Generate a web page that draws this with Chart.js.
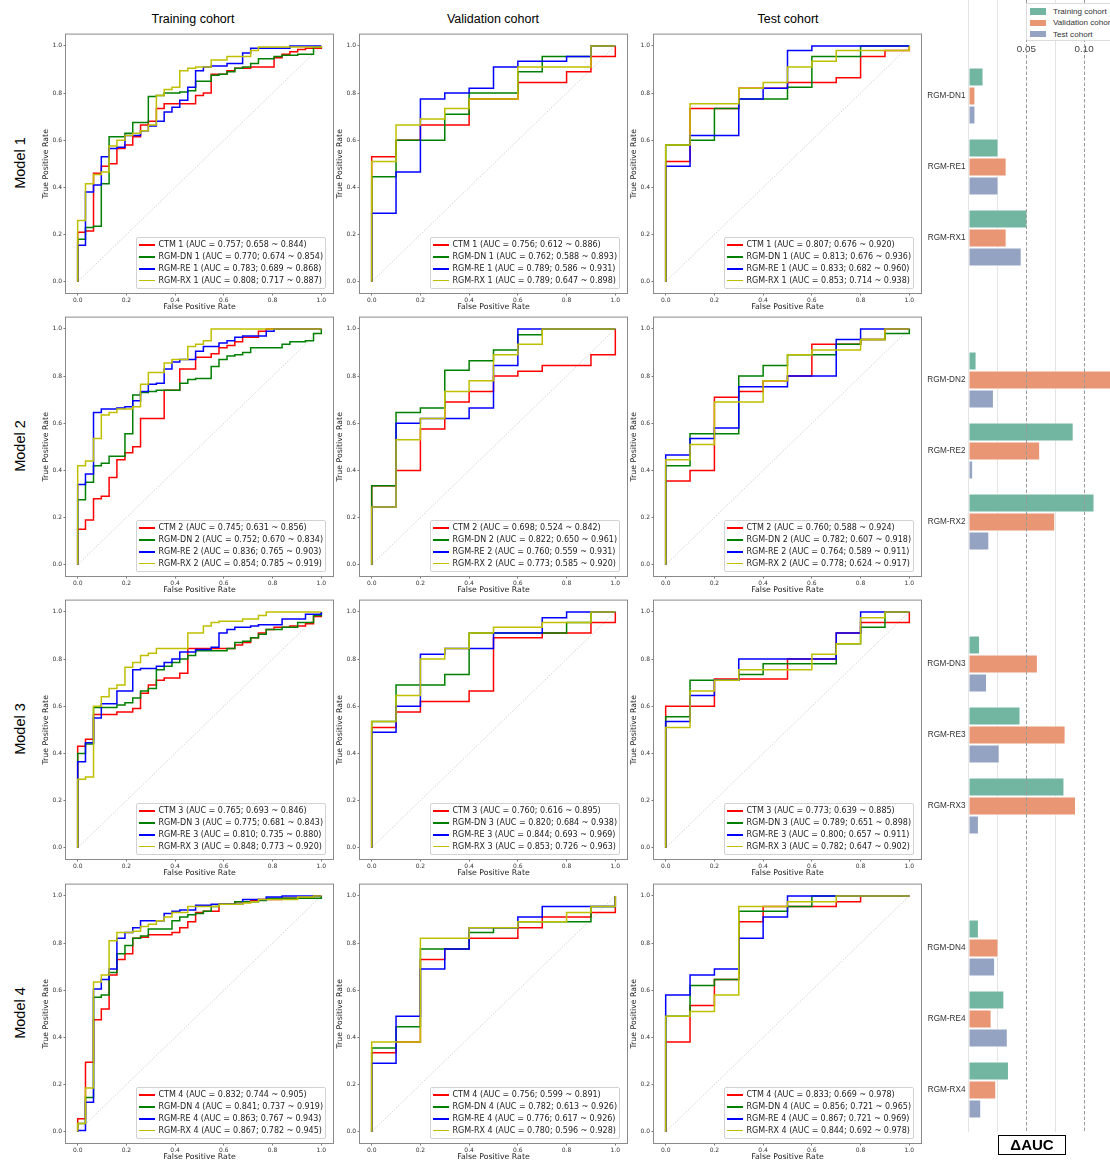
<!DOCTYPE html>
<html><head><meta charset="utf-8">
<script src="https://cdn.jsdelivr.net/npm/chart.js@4.4.0/dist/chart.umd.min.js"></script>
<style>
html,body{margin:0;padding:0;background:#fff;overflow:hidden;}
body{position:relative;width:1110px;height:1160px;}
canvas{position:absolute;}
.ctitle{position:absolute;top:12px;font-family:"Liberation Sans",Arial,sans-serif;font-size:12.5px;line-height:15px;color:#000;transform:translateX(-50%);white-space:nowrap;}
.rlabel{position:absolute;font-family:"Liberation Sans",Arial,sans-serif;font-size:14.5px;line-height:16px;color:#000;transform:translate(-50%,-50%) rotate(-90deg);white-space:nowrap;}
.leg{position:absolute;background:rgba(255,255,255,0.85);border:1px solid #d2d2d2;border-radius:2px;padding:1px 2px 1px 2px;font-family:"DejaVu Sans",sans-serif;font-size:8px;color:#222;}
.leg .row{height:11.8px;line-height:11.8px;white-space:nowrap;display:flex;align-items:center;}
.leg .sw{display:inline-block;width:16px;height:1.5px;margin-right:3px;flex:none;}
.bleg{position:absolute;left:1026px;top:3px;width:100px;height:36px;background:#fff;border:1px solid #dcdcdc;border-radius:2px;font-family:"Liberation Sans",Arial,sans-serif;font-size:8.1px;color:#333;}
.bleg .row{position:absolute;left:3px;height:11px;line-height:11px;white-space:nowrap;display:flex;align-items:center;}
.bleg .sw{display:inline-block;width:16px;height:6.5px;margin-right:7px;flex:none;}
.dauc{position:absolute;left:998px;top:1135px;width:66px;height:18px;border:1.5px solid #000;font-family:"Liberation Sans",Arial,sans-serif;font-weight:bold;font-size:15px;line-height:18px;text-align:center;color:#000;}
</style></head><body>
<script>
// ---------------- DATA ----------------
const cohortNames = ['Training cohort','Validation cohort','Test cohort'];
const modelRows = ['Model 1','Model 2','Model 3','Model 4'];
const seriesNames = ['CTM','RGM-DN','RGM-RE','RGM-RX'];
const tickValues = [0,0.2,0.4,0.6,0.8,1.0];

// AUC; CI low; CI high  for [CTM, RGM-DN, RGM-RE, RGM-RX]
const aucM1Train = [[0.757,0.658,0.844],[0.770,0.674,0.854],[0.783,0.689,0.868],[0.808,0.717,0.887]];
const aucM1Val   = [[0.756,0.612,0.886],[0.762,0.588,0.893],[0.789,0.586,0.931],[0.789,0.647,0.898]];
const aucM1Test  = [[0.807,0.676,0.920],[0.813,0.676,0.936],[0.833,0.682,0.960],[0.853,0.714,0.938]];
const aucM2Train = [[0.745,0.631,0.856],[0.752,0.670,0.834],[0.836,0.765,0.903],[0.854,0.785,0.919]];
const aucM2Val   = [[0.698,0.524,0.842],[0.822,0.650,0.961],[0.760,0.559,0.931],[0.773,0.585,0.920]];
const aucM2Test  = [[0.760,0.588,0.924],[0.782,0.607,0.918],[0.764,0.589,0.911],[0.778,0.624,0.917]];
const aucM3Train = [[0.765,0.693,0.846],[0.775,0.681,0.843],[0.810,0.735,0.880],[0.848,0.773,0.920]];
const aucM3Val   = [[0.760,0.616,0.895],[0.820,0.684,0.938],[0.844,0.693,0.969],[0.853,0.726,0.963]];
const aucM3Test  = [[0.773,0.639,0.885],[0.789,0.651,0.898],[0.800,0.657,0.911],[0.782,0.647,0.902]];
const aucM4Train = [[0.832,0.744,0.905],[0.841,0.737,0.919],[0.863,0.767,0.943],[0.867,0.782,0.945]];
const aucM4Val   = [[0.756,0.599,0.891],[0.782,0.613,0.926],[0.776,0.617,0.926],[0.780,0.596,0.928]];
const aucM4Test  = [[0.833,0.669,0.978],[0.856,0.721,0.965],[0.867,0.721,0.969],[0.844,0.692,0.978]];

// ROC steps: [fpr, tpr] = move right to fpr, then up to tpr. Order: CTM, DN, RE, RX
const rocM1Train = [
 [[0,0.21],[0.032,0.215],[0.065,0.46],[0.097,0.49],[0.129,0.50],[0.161,0.565],[0.194,0.58],[0.226,0.615],[0.258,0.665],[0.29,0.68],[0.323,0.735],[0.355,0.755],[0.484,0.79],[0.516,0.80],[0.548,0.88],[0.613,0.895],[0.645,0.905],[0.71,0.91],[0.806,0.95],[0.839,0.965],[0.871,0.975],[0.903,0.985],[0.935,0.99],[1,1]],
 [[0,0.18],[0.032,0.23],[0.065,0.235],[0.097,0.415],[0.129,0.615],[0.194,0.63],[0.226,0.675],[0.29,0.785],[0.323,0.79],[0.355,0.80],[0.419,0.805],[0.452,0.81],[0.484,0.85],[0.548,0.875],[0.58,0.88],[0.613,0.89],[0.645,0.905],[0.677,0.91],[0.71,0.925],[0.742,0.945],[0.806,0.955],[0.839,0.96],[0.903,0.965],[0.968,0.995],[1,1]],
 [[0,0.155],[0.032,0.38],[0.065,0.41],[0.097,0.53],[0.129,0.565],[0.161,0.57],[0.194,0.62],[0.258,0.64],[0.29,0.66],[0.323,0.68],[0.355,0.72],[0.387,0.74],[0.419,0.77],[0.452,0.825],[0.484,0.895],[0.516,0.91],[0.548,0.915],[0.613,0.925],[0.677,0.97],[0.71,0.99],[0.871,1.0],[1,1]],
 [[0,0.26],[0.032,0.415],[0.065,0.455],[0.097,0.465],[0.129,0.575],[0.161,0.60],[0.194,0.62],[0.226,0.63],[0.258,0.64],[0.29,0.665],[0.323,0.79],[0.355,0.815],[0.387,0.825],[0.419,0.895],[0.452,0.905],[0.484,0.91],[0.548,0.94],[0.613,0.955],[0.71,0.98],[0.742,0.995],[1,1]]
];
const rocM1Val = [
 [[0,0.53],[0.1,0.60],[0.2,0.665],[0.4,0.775],[0.6,0.845],[0.8,0.89],[0.9,0.955],[1,1]],
 [[0,0.445],[0.1,0.6],[0.3,0.71],[0.4,0.80],[0.6,0.89],[0.7,0.955],[0.9,1.0],[1,1]],
 [[0,0.29],[0.1,0.465],[0.2,0.775],[0.3,0.80],[0.4,0.82],[0.5,0.91],[0.6,0.935],[0.8,0.955],[0.9,1.0],[1,1]],
 [[0,0.51],[0.1,0.665],[0.2,0.69],[0.3,0.735],[0.4,0.775],[0.6,0.91],[0.9,1.0],[1,1]]
];
const rocM1Test = [
 [[0,0.51],[0.1,0.735],[0.3,0.82],[0.5,0.845],[0.7,0.865],[0.8,0.955],[0.9,0.98],[1,1]],
 [[0,0.58],[0.1,0.60],[0.2,0.735],[0.3,0.775],[0.5,0.825],[0.6,0.955],[0.8,1.0],[1,1]],
 [[0,0.49],[0.1,0.62],[0.3,0.775],[0.4,0.82],[0.5,0.98],[0.6,1.0],[1,1]],
 [[0,0.58],[0.1,0.755],[0.3,0.82],[0.4,0.845],[0.5,0.91],[0.6,0.935],[0.7,0.98],[1,1]]
];
const rocM2Train = [
 [[0,0.15],[0.032,0.19],[0.065,0.28],[0.097,0.29],[0.129,0.37],[0.161,0.445],[0.194,0.475],[0.226,0.50],[0.258,0.62],[0.355,0.74],[0.419,0.83],[0.484,0.88],[0.548,0.895],[0.58,0.92],[0.613,0.93],[0.645,0.945],[0.677,0.965],[0.742,0.99],[0.774,1.0],[1,1]],
 [[0,0.275],[0.032,0.35],[0.065,0.42],[0.097,0.43],[0.129,0.46],[0.194,0.555],[0.226,0.72],[0.258,0.73],[0.29,0.735],[0.323,0.74],[0.419,0.77],[0.452,0.785],[0.484,0.79],[0.548,0.84],[0.58,0.87],[0.613,0.885],[0.645,0.89],[0.677,0.90],[0.71,0.92],[0.839,0.935],[0.871,0.945],[0.935,0.95],[0.968,0.98],[1,1]],
 [[0,0.34],[0.032,0.385],[0.065,0.645],[0.097,0.66],[0.161,0.665],[0.194,0.67],[0.226,0.695],[0.258,0.735],[0.29,0.765],[0.323,0.77],[0.355,0.83],[0.387,0.86],[0.419,0.87],[0.484,0.905],[0.516,0.925],[0.58,0.94],[0.613,0.95],[0.645,0.965],[0.677,0.97],[0.774,0.99],[0.806,1.0],[1,1]],
 [[0,0.42],[0.032,0.44],[0.065,0.535],[0.097,0.635],[0.129,0.645],[0.161,0.66],[0.226,0.67],[0.258,0.765],[0.29,0.815],[0.355,0.855],[0.387,0.87],[0.452,0.925],[0.484,0.935],[0.516,0.95],[0.548,1.0],[1,1]]
];
const rocM2Val = [
 [[0,0.335],[0.1,0.40],[0.2,0.575],[0.3,0.69],[0.4,0.735],[0.5,0.80],[0.6,0.82],[0.7,0.845],[0.9,0.89],[1,1]],
 [[0,0.335],[0.1,0.645],[0.2,0.665],[0.3,0.825],[0.4,0.865],[0.5,0.91],[0.6,0.975],[0.7,1.0],[1,1]],
 [[0,0.245],[0.1,0.60],[0.2,0.62],[0.4,0.665],[0.5,0.845],[0.6,1.0],[1,1]],
 [[0,0.245],[0.1,0.53],[0.2,0.62],[0.3,0.735],[0.4,0.78],[0.5,0.89],[0.6,0.935],[0.7,1.0],[1,1]]
];
const rocM2Test = [
 [[0,0.355],[0.1,0.40],[0.2,0.71],[0.3,0.735],[0.4,0.78],[0.5,0.80],[0.6,0.935],[0.8,0.955],[0.9,1.0],[1,1]],
 [[0,0.42],[0.1,0.555],[0.3,0.80],[0.4,0.845],[0.5,0.89],[0.7,0.935],[0.8,0.955],[0.9,0.98],[1,1]],
 [[0,0.465],[0.1,0.535],[0.2,0.58],[0.3,0.755],[0.5,0.80],[0.7,0.955],[0.8,1.0],[1,1]],
 [[0,0.445],[0.1,0.51],[0.2,0.69],[0.4,0.78],[0.5,0.89],[0.6,0.91],[0.8,0.955],[0.9,1.0],[1,1]]
];
const rocM3Train = [
 [[0,0.43],[0.032,0.46],[0.065,0.565],[0.161,0.575],[0.226,0.59],[0.258,0.655],[0.29,0.69],[0.323,0.71],[0.355,0.72],[0.419,0.74],[0.452,0.845],[0.645,0.86],[0.677,0.87],[0.71,0.89],[0.742,0.91],[0.774,0.925],[0.806,0.935],[0.871,0.94],[0.935,0.95],[0.968,0.98],[1,1]],
 [[0,0.40],[0.032,0.44],[0.065,0.595],[0.161,0.605],[0.194,0.615],[0.226,0.635],[0.258,0.665],[0.29,0.675],[0.323,0.755],[0.355,0.77],[0.387,0.785],[0.419,0.80],[0.452,0.815],[0.484,0.835],[0.613,0.845],[0.645,0.87],[0.677,0.875],[0.71,0.89],[0.742,0.905],[0.774,0.925],[0.839,0.935],[0.903,0.955],[0.968,0.985],[1,1]],
 [[0,0.365],[0.032,0.445],[0.065,0.55],[0.097,0.61],[0.161,0.665],[0.226,0.755],[0.258,0.76],[0.323,0.77],[0.355,0.785],[0.387,0.80],[0.419,0.83],[0.484,0.84],[0.548,0.85],[0.58,0.91],[0.613,0.925],[0.645,0.935],[0.71,0.94],[0.742,0.945],[0.839,0.97],[0.935,0.99],[1,1]],
 [[0,0.29],[0.032,0.30],[0.065,0.60],[0.097,0.64],[0.129,0.675],[0.161,0.69],[0.194,0.765],[0.226,0.785],[0.258,0.815],[0.29,0.825],[0.323,0.845],[0.452,0.91],[0.516,0.94],[0.548,0.955],[0.58,0.96],[0.677,0.97],[0.742,0.985],[0.774,1.0],[1,1]]
];
const rocM3Val = [
 [[0,0.51],[0.1,0.575],[0.2,0.62],[0.4,0.665],[0.5,0.89],[0.7,0.91],[0.9,0.955],[1,1]],
 [[0,0.535],[0.1,0.69],[0.3,0.735],[0.4,0.91],[0.8,0.955],[0.9,1.0],[1,1]],
 [[0,0.49],[0.1,0.60],[0.2,0.82],[0.3,0.845],[0.5,0.91],[0.7,0.975],[0.8,1.0],[1,1]],
 [[0,0.535],[0.1,0.645],[0.2,0.80],[0.3,0.845],[0.4,0.91],[0.5,0.935],[0.7,0.955],[0.9,1.0],[1,1]]
];
const rocM3Test = [
 [[0,0.60],[0.2,0.715],[0.5,0.80],[0.7,0.91],[0.8,0.955],[1,1]],
 [[0,0.555],[0.1,0.71],[0.3,0.735],[0.4,0.78],[0.7,0.865],[0.8,0.935],[0.9,1.0],[1,1]],
 [[0,0.535],[0.1,0.645],[0.2,0.71],[0.3,0.80],[0.7,0.91],[0.8,1.0],[1,1]],
 [[0,0.51],[0.1,0.665],[0.2,0.71],[0.3,0.755],[0.6,0.82],[0.7,0.865],[0.8,0.975],[0.9,1.0],[1,1]]
];
const rocM4Train = [
 [[0,0.055],[0.032,0.295],[0.065,0.475],[0.097,0.52],[0.129,0.665],[0.161,0.73],[0.194,0.755],[0.226,0.82],[0.258,0.825],[0.29,0.835],[0.387,0.845],[0.419,0.865],[0.452,0.89],[0.484,0.93],[0.516,0.935],[0.58,0.965],[0.645,0.975],[0.71,0.98],[0.742,0.985],[0.839,0.99],[0.968,1.0],[1,1]],
 [[0,0.035],[0.032,0.145],[0.065,0.57],[0.097,0.58],[0.129,0.675],[0.161,0.755],[0.194,0.79],[0.226,0.82],[0.258,0.83],[0.29,0.86],[0.387,0.895],[0.419,0.91],[0.452,0.92],[0.484,0.925],[0.516,0.935],[0.548,0.955],[0.58,0.965],[0.645,0.975],[0.742,0.98],[0.774,0.99],[1,1]],
 [[0,0.005],[0.032,0.125],[0.065,0.605],[0.097,0.645],[0.129,0.69],[0.161,0.82],[0.194,0.845],[0.226,0.865],[0.258,0.895],[0.355,0.925],[0.387,0.935],[0.419,0.94],[0.484,0.96],[0.548,0.965],[0.677,0.985],[0.774,0.995],[0.839,1.0],[1,1]],
 [[0,0.035],[0.032,0.185],[0.065,0.635],[0.097,0.665],[0.129,0.81],[0.161,0.845],[0.226,0.85],[0.258,0.87],[0.29,0.88],[0.323,0.895],[0.355,0.91],[0.387,0.93],[0.452,0.955],[0.58,0.965],[0.677,0.97],[0.71,0.975],[0.742,0.985],[0.903,0.995],[0.968,1.0],[1,1]]
];
const rocM4Val = [
 [[0,0.335],[0.1,0.38],[0.2,0.73],[0.3,0.775],[0.4,0.82],[0.6,0.865],[0.7,0.91],[0.9,0.93],[1,1]],
 [[0,0.355],[0.1,0.445],[0.2,0.775],[0.4,0.845],[0.5,0.865],[0.6,0.89],[0.9,0.955],[1,1]],
 [[0,0.29],[0.1,0.49],[0.2,0.69],[0.3,0.775],[0.4,0.865],[0.6,0.91],[0.7,0.955],[1,1]],
 [[0,0.38],[0.2,0.82],[0.4,0.865],[0.6,0.89],[0.8,0.93],[0.9,0.955],[1,1]]
];
const rocM4Test = [
 [[0,0.38],[0.1,0.535],[0.2,0.645],[0.3,0.89],[0.4,0.955],[0.7,0.975],[0.8,1.0],[1,1]],
 [[0,0.49],[0.1,0.62],[0.2,0.645],[0.3,0.935],[0.5,0.955],[0.6,1.0],[1,1]],
 [[0,0.58],[0.1,0.665],[0.2,0.69],[0.3,0.82],[0.4,0.91],[0.5,1.0],[1,1]],
 [[0,0.49],[0.1,0.51],[0.2,0.58],[0.3,0.955],[0.5,0.975],[0.7,1.0],[1,1]]
];

// Delta AUC bar chart
const barCategories = ['RGM-DN1','RGM-RE1','RGM-RX1','RGM-DN2','RGM-RE2','RGM-RX2','RGM-DN3','RGM-RE3','RGM-RX3','RGM-DN4','RGM-RE4','RGM-RX4'];
const deltaTrain = [0.013,0.026,0.051, 0.007,0.091,0.109, 0.010,0.045,0.083, 0.009,0.031,0.035];
const deltaVal   = [0.006,0.033,0.033, 0.124,0.062,0.075, 0.060,0.084,0.093, 0.026,0.020,0.024];
const deltaTest  = [0.006,0.026,0.046, 0.022,0.004,0.018, 0.016,0.027,0.009, 0.023,0.034,0.011];
const barTicks = [0,0.025,0.05,0.075,0.10];

// ---------------- LAYOUT / STYLE ----------------
const rocPanels = [[rocM1Train,rocM1Val,rocM1Test],[rocM2Train,rocM2Val,rocM2Test],[rocM3Train,rocM3Val,rocM3Test],[rocM4Train,rocM4Val,rocM4Test]];
const aucPanels = [[aucM1Train,aucM1Val,aucM1Test],[aucM2Train,aucM2Val,aucM2Test],[aucM3Train,aucM3Val,aucM3Test],[aucM4Train,aucM4Val,aucM4Test]];
const lineColors = ['#ff0000','#008000','#0000ff','#bfbf00'];
const frameLeft = [65.5,359.5,653.5];
const frameTop = [31.5,314.5,597.5,881.5];
const titleX = [193,493,788];
const FW=268, FH=262, YW=24.5, XH=17.5, PT=2.5, PR=2.5;
const tickFont = {family:'DejaVu Sans', size:6};
const titleFont = {family:'DejaVu Sans', size:7.8, lineHeight:1};

function expand(steps){
  const pts=[{x:0,y:0}]; let py=0;
  for(const [x,y] of steps){ pts.push({x:x,y:py}); pts.push({x:x,y:y}); py=y; }
  return pts;
}
const framePlugin = {id:'frame', afterDatasetsDraw(chart){
  const {ctx, chartArea:a} = chart; ctx.save(); ctx.strokeStyle='#8a8a8a'; ctx.lineWidth=1;
  ctx.strokeRect(a.left,a.top,a.right-a.left,a.bottom-a.top); ctx.restore();
}};

function el(tag, cls, css, text){ const e=document.createElement(tag); if(cls) e.className=cls; if(css) Object.assign(e.style,css); if(text!==undefined) e.textContent=text; document.body.appendChild(e); return e; }

cohortNames.forEach((n,c)=>el('div','ctitle',{left:titleX[c]+'px'},n));
modelRows.forEach((n,r)=>el('div','rlabel',{left:'20px',top:(frameTop[r]+FH/2)+'px'},n));

for(let r=0;r<4;r++){
  for(let c=0;c<3;c++){
    const cv = document.createElement('canvas');
    const W = YW+FW+PR, H = PT+FH+XH;
    cv.width=W; cv.height=H; cv.style.left=(frameLeft[c]-YW)+'px'; cv.style.top=(frameTop[r]-PT)+'px';
    cv.style.width=W+'px'; cv.style.height=H+'px';
    document.body.appendChild(cv);
    const series = rocPanels[r][c];
    const datasets = series.map((s,i)=>({
      label: seriesNames[i], data: expand(s), borderColor: lineColors[i], borderWidth: 1.5,
      pointRadius:0, tension:0, fill:false, order: 3-i
    }));
    datasets.push({label:'chance', data:[{x:0,y:0},{x:1,y:1}], borderColor:'rgba(150,150,150,0.9)', borderWidth:0.6, borderDash:[1,1.6], pointRadius:0, fill:false, order:9});
    new Chart(cv,{
      type:'line',
      data:{datasets},
      options:{
        responsive:false, animation:false, devicePixelRatio:1,
        layout:{padding:{top:PT,right:PR,left:0,bottom:0}},
        plugins:{legend:{display:false}, tooltip:{enabled:false}},
        scales:{
          x:{type:'linear', min:-0.05, max:1.05,
             afterBuildTicks:s=>{s.ticks=tickValues.map(v=>({value:v}));},
             ticks:{font:tickFont, color:'#333', padding:1, maxRotation:0, callback:v=>Number(v).toFixed(1)},
             grid:{display:true, drawOnChartArea:false, drawTicks:true, tickLength:2, color:'#555', lineWidth:0.8},
             border:{display:false},
             title:{display:true, text:'False Positive Rate', font:titleFont, color:'#222', padding:{top:0,bottom:0.3}},
             afterFit:s=>{s.height=XH;}},
          y:{type:'linear', min:-0.05, max:1.05,
             afterBuildTicks:s=>{s.ticks=tickValues.map(v=>({value:v}));},
             ticks:{font:tickFont, color:'#333', padding:1.5, callback:v=>Number(v).toFixed(1)},
             grid:{display:true, drawOnChartArea:false, drawTicks:true, tickLength:2, color:'#555', lineWidth:0.8},
             border:{display:false},
             title:{display:true, text:'True Positive Rate', font:titleFont, color:'#222', padding:{top:1.2,bottom:0}},
             afterFit:s=>{s.width=YW;}}
        }
      },
      plugins:[framePlugin]
    });
    // legend
    const lg = el('div','leg',{right:(1110-(frameLeft[c]+FW-7.5))+'px', bottom:(1160-(frameTop[r]+FH-5))+'px'});
    aucPanels[r][c].forEach((a,i)=>{
      const row=document.createElement('div'); row.className='row';
      const sw=document.createElement('span'); sw.className='sw'; sw.style.backgroundColor=lineColors[i];
      row.appendChild(sw);
      row.appendChild(document.createTextNode(seriesNames[i]+' '+(r+1)+' (AUC = '+a[0].toFixed(3)+'; '+a[1].toFixed(3)+' ~ '+a[2].toFixed(3)+')'));
      lg.appendChild(row);
    });
  }
}

// ---------------- BAR CHART ----------------
function pad(arr){ const out=[]; arr.forEach((v,i)=>{ out.push(v); if(i%3===2 && i<arr.length-1) out.push(null); }); return out; }
const barLabels = pad(barCategories).map(v=>v===null?'':v);
const barColors = ['#72b6a1','#e99675','#95a3c3'];
const bcv = document.createElement('canvas');
bcv.width=185; bcv.height=1160; bcv.style.left='925px'; bcv.style.top='0px'; bcv.style.width='185px'; bcv.style.height='1160px';
document.body.appendChild(bcv);
const BAR_LEFT=43.5, BAR_TOP=60.5, BAR_BOTTOM=1125.5, PX_PER_UNIT=1156;
const barGrid = {
  id:'barGrid',
  beforeDatasetsDraw(chart){
    const {ctx}=chart, x=chart.scales.x; ctx.save(); ctx.strokeStyle='#e3e3e3'; ctx.lineWidth=1;
    [0,0.025,0.075].forEach(v=>{ const px=Math.round(x.getPixelForValue(v)-0.5)+0.5; ctx.beginPath(); ctx.moveTo(px,0); ctx.lineTo(px,1132); ctx.stroke(); });
    ctx.restore();
  },
  afterDatasetsDraw(chart){
    const {ctx}=chart, x=chart.scales.x; ctx.save(); ctx.strokeStyle='#9a9a9a'; ctx.lineWidth=1; ctx.setLineDash([3.5,2]);
    [0.05,0.10].forEach(v=>{ const px=Math.round(x.getPixelForValue(v)-0.5)+0.5; ctx.beginPath(); ctx.moveTo(px,0); ctx.lineTo(px,1132); ctx.stroke(); });
    ctx.restore();
  }
};
new Chart(bcv,{
  type:'bar',
  data:{labels:barLabels, datasets:[
    {label:cohortNames[0], data:pad(deltaTrain), backgroundColor:barColors[0]},
    {label:cohortNames[1], data:pad(deltaVal), backgroundColor:barColors[1]},
    {label:cohortNames[2], data:pad(deltaTest), backgroundColor:barColors[2]}
  ]},
  options:{
    indexAxis:'y', responsive:false, animation:false, devicePixelRatio:1,
    layout:{padding:{top:0,right:0,left:0,bottom:1160-BAR_BOTTOM}},
    datasets:{bar:{categoryPercentage:0.8, barPercentage:1, borderColor:'#ffffff', borderWidth:1, borderSkipped:false}},
    plugins:{legend:{display:false}, tooltip:{enabled:false}},
    scales:{
      x:{position:'top', min:0, max:(185-BAR_LEFT)/PX_PER_UNIT,
         afterBuildTicks:s=>{s.ticks=barTicks.map(v=>({value:v}));},
         ticks:{font:{family:'Liberation Sans', size:9.8}, color:'#444', padding:5.5, maxRotation:0,
                callback:v=>(Math.abs(v-0.05)<1e-9||Math.abs(v-0.1)<1e-9)?Number(v).toFixed(2):''},
         grid:{display:false, drawTicks:false}, border:{display:false},
         afterFit:s=>{s.height=BAR_TOP;}},
      y:{ticks:{font:{family:'Liberation Sans', size:8.2}, color:'#333', padding:3},
         grid:{display:false, drawTicks:false}, border:{display:false},
         afterFit:s=>{s.width=BAR_LEFT;}}
    }
  },
  plugins:[barGrid]
});
// bar legend
const bl = el('div','bleg');
cohortNames.forEach((n,i)=>{
  const row=document.createElement('div'); row.className='row'; row.style.top=(2+i*11.3)+'px';
  const sw=document.createElement('span'); sw.className='sw'; sw.style.background=barColors[i];
  row.appendChild(sw); row.appendChild(document.createTextNode(n)); bl.appendChild(row);
});
el('div','dauc',null,'ΔAUC');
</script>
</body></html>
